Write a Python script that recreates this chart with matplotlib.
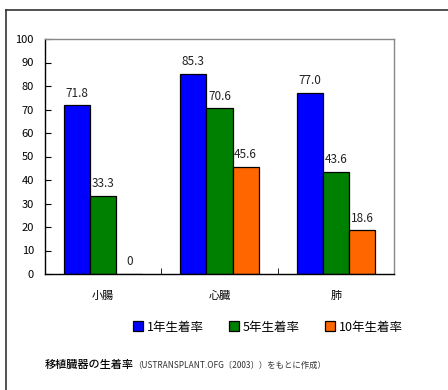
import matplotlib
matplotlib.use("Agg")
import matplotlib.pyplot as plt
import numpy as np
from matplotlib.lines import Line2D

plt.rcParams['font.family'] = ['Noto Sans CJK JP', 'DejaVu Sans']

# data
organs = ['小腸', '心臓', '肺']
series_names = ['1年生着率', '5年生着率', '10年生着率']
rate_1y = [71.8, 85.3, 77.0]
rate_5y = [33.3, 70.6, 43.6]
rate_10y = [0, 45.6, 18.6]
colors = ['#0000FF', '#008000', '#FF6600']
yticks = [0, 10, 20, 30, 40, 50, 60, 70, 80, 90, 100]

fig = plt.figure(figsize=(4.48, 3.9), dpi=100)
fig.patch.set_facecolor('white')

# outer frame (top and left edges visible)
fig.add_artist(Line2D([6/448, 1.0], [1 - 10/390, 1 - 10/390], color='#333333', lw=1.2,
                      transform=fig.transFigure))
fig.add_artist(Line2D([6/448, 6/448], [0.0, 1 - 10/390], color='#333333', lw=1.2,
                      transform=fig.transFigure))

ax = fig.add_axes([45/448, (390-274)/390, (394-45)/448, (274-39)/390])

x = np.arange(len(organs))
w = 0.225
all_series = [rate_1y, rate_5y, rate_10y]
for i, (vals, c, name) in enumerate(zip(all_series, colors, series_names)):
    pos = x + (i - 1) * w
    bars = ax.bar(pos, vals, width=w, color=c, edgecolor='black', linewidth=0.9, label=name)
    for p, v in zip(pos, vals):
        txt = '0' if v == 0 else f'{v:.1f}'
        ax.annotate(txt, (p, v), xytext=(0, 4), textcoords='offset points',
                    ha='center', va='bottom', fontsize=8.5, color='#222222')

ax.set_xlim(-0.5, 2.5)
ax.set_ylim(0, 100)
ax.set_yticks(yticks)
ax.set_xticks(x)
ax.set_xticklabels(organs, fontsize=8)
ax.set_xticks([0.5, 1.5, 2.5], minor=True)
ax.tick_params(axis='x', which='major', length=0, pad=12)
ax.tick_params(axis='x', which='minor', direction='in', length=4)
ax.tick_params(axis='y', direction='in', length=4, pad=8, labelsize=8)

for s in ['left', 'bottom']:
    ax.spines[s].set_color('black')
    ax.spines[s].set_linewidth(1.0)
for s in ['top', 'right']:
    ax.spines[s].set_color('#888888')
    ax.spines[s].set_linewidth(1.0)

fig.legend(loc='center', bbox_to_anchor=(268/448, 1 - 327/390), ncol=3, frameon=False,
           fontsize=9, handlelength=0.8, handleheight=0.8, handletextpad=0.3,
           columnspacing=2.0)

fig.text(45/448, 1 - 365/390, '移植臓器の生着率', fontsize=8, va='center', ha='left',
         fontweight='medium')
fig.text(133/448, 1 - 365/390, '（USTRANSPLANT.OFG〔2003〕）をもとに作成）', fontsize=6,
         va='center', ha='left', color='#333333')

fig.savefig('out.png', dpi=100)
